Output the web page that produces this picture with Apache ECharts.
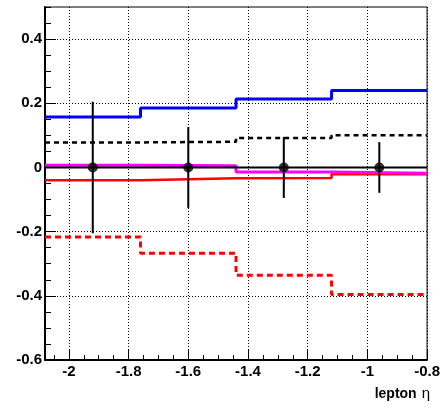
<!DOCTYPE html>
<html>
<head>
<meta charset="utf-8">
<script src="https://cdn.jsdelivr.net/npm/echarts@6/dist/echarts.min.js"></script>
<style>
  html, body { margin: 0; padding: 0; background: #fff; }
  #chart { width: 443px; height: 408px; }
</style>
</head>
<body>
<div id="chart"></div>
<script>
// Bins in lepton eta
const binEdges   = [-2.08, -1.76, -1.44, -1.12, -0.8];
const binCenters = [-1.92, -1.60, -1.28, -0.96];

// Relative shifts per bin
const nominal     = [0, 0, 0, 0];
const blueUp      = [0.157, 0.185, 0.213, 0.240];
const blackDashed = [0.078, 0.080, 0.092, 0.100];
const magentaVals = [0.007, 0.005, -0.014, -0.018];
const redSolid    = [-0.040, -0.034, -0.033, -0.021];
const redDashed   = [-0.217, -0.267, -0.336, -0.396];

// Data points with symmetric errors
const dataVals = [0, 0, 0, 0];
const dataErr  = [0.205, 0.126, 0.095, 0.079];

// Axis ticks
const xTickLabels = [-2, -1.8, -1.6, -1.4, -1.2, -1, -0.8];
const yTickLabels = [-0.6, -0.4, -0.2, 0, 0.2, 0.4];
const xMinorTicks = [-2.05, -1.95, -1.9, -1.85, -1.75, -1.7, -1.65, -1.55, -1.5, -1.45,
                     -1.35, -1.3, -1.25, -1.15, -1.1, -1.05, -0.95, -0.9, -0.85];
const yMinorTicks = [-0.55, -0.5, -0.45, -0.35, -0.3, -0.25, -0.15, -0.1, -0.05,
                     0.05, 0.1, 0.15, 0.25, 0.3, 0.35, 0.45, 0.5];

const FONT = '"Liberation Sans", Arial, Helvetica, sans-serif';

// Histogram outline: one point per left bin edge plus the closing right edge
function stepPoints(vals) {
  return binEdges.map((e, i) => [e, vals[Math.min(i, vals.length - 1)]]);
}

function fmt(v) {
  return String(Math.round(v * 100) / 100);
}

function histSeries(name, vals, color, width, type, z) {
  return {
    name: name,
    type: 'line',
    step: 'end',
    data: stepPoints(vals),
    symbol: 'none',
    z: z,
    lineStyle: { color: color, width: width, type: type },
    emphasis: { disabled: true }
  };
}

const chart = echarts.init(document.getElementById('chart'), null, { renderer: 'canvas' });

const option = {
  animation: false,
  backgroundColor: '#fff',
  title: {
    text: '{b|lepton} {g|η}',
    right: 8,
    top: 380,
    textStyle: {
      rich: {
        b: { fontFamily: FONT, fontWeight: 'bold', fontSize: 14, color: '#000' },
        g: { fontFamily: FONT, fontWeight: 'normal', fontSize: 15, color: '#000' }
      }
    }
  },
  grid: {
    left: 45, right: 15, top: 7, bottom: 48,
    show: true, borderColor: '#000', borderWidth: 1, backgroundColor: 'transparent'
  },
  xAxis: [
    {
      type: 'value', min: -2.08, max: -0.8, position: 'bottom',
      axisLine: { show: true, onZero: false, lineStyle: { color: '#000', width: 2 } },
      axisTick: { show: true, inside: true, length: 10, customValues: xTickLabels,
                  lineStyle: { color: '#000', width: 1 } },
      axisLabel: { customValues: xTickLabels, formatter: fmt, color: '#000',
                   fontFamily: FONT, fontWeight: 'bold', fontSize: 15, margin: 4 },
      splitLine: { show: true, lineStyle: { color: '#000', width: 1, type: [1, 2] } }
    },
    {
      type: 'value', min: -2.08, max: -0.8, position: 'bottom',
      axisLine: { show: false, onZero: false },
      axisTick: { show: true, inside: true, length: 5, customValues: xMinorTicks,
                  lineStyle: { color: '#000', width: 1 } },
      axisLabel: { show: false },
      splitLine: { show: false }
    }
  ],
  yAxis: [
    {
      type: 'value', min: -0.6, max: 0.5, position: 'left',
      axisLine: { show: true, onZero: false, lineStyle: { color: '#000', width: 2 } },
      axisTick: { show: true, inside: true, length: 11, customValues: yTickLabels,
                  lineStyle: { color: '#000', width: 1 } },
      axisLabel: { customValues: yTickLabels, formatter: fmt, color: '#000',
                   fontFamily: FONT, fontWeight: 'bold', fontSize: 15, margin: 3 },
      splitLine: { show: true, lineStyle: { color: '#000', width: 1, type: [1, 2] } }
    },
    {
      type: 'value', min: -0.6, max: 0.5, position: 'left',
      axisLine: { show: false, onZero: false },
      axisTick: { show: true, inside: true, length: 6, customValues: yMinorTicks,
                  lineStyle: { color: '#000', width: 1 } },
      axisLabel: { show: false },
      splitLine: { show: false }
    }
  ],
  series: [
    histSeries('redDashed', redDashed, '#ff0000', 3, [6, 4], 2),
    histSeries('blueUp', blueUp, '#0000ff', 3, 'solid', 3),
    histSeries('blackDashed', blackDashed, '#000000', 2.5, [5, 4], 4),
    histSeries('redSolid', redSolid, '#ff0000', 2.5, 'solid', 5),
    histSeries('magenta', magentaVals, '#ff00ff', 3, 'solid', 6),
    histSeries('nominal', nominal, '#000000', 2, 'solid', 7),
    {
      name: 'errors',
      type: 'custom',
      z: 8,
      data: binCenters.map((c, i) => [c, dataVals[i], dataErr[i]]),
      encode: { x: 0, y: 1 },
      renderItem: function (params, api) {
        const x = api.value(0), y = api.value(1), e = api.value(2);
        const hi = api.coord([x, y + e]);
        const lo = api.coord([x, y - e]);
        return {
          type: 'line',
          shape: { x1: hi[0], y1: hi[1], x2: lo[0], y2: lo[1] },
          style: { stroke: '#000', lineWidth: 2 }
        };
      }
    },
    {
      name: 'data',
      type: 'scatter',
      z: 9,
      symbol: 'circle',
      symbolSize: 10,
      itemStyle: { color: '#000' },
      data: binCenters.map((c, i) => [c, dataVals[i]])
    }
  ]
};

chart.setOption(option);
</script>
</body>
</html>
